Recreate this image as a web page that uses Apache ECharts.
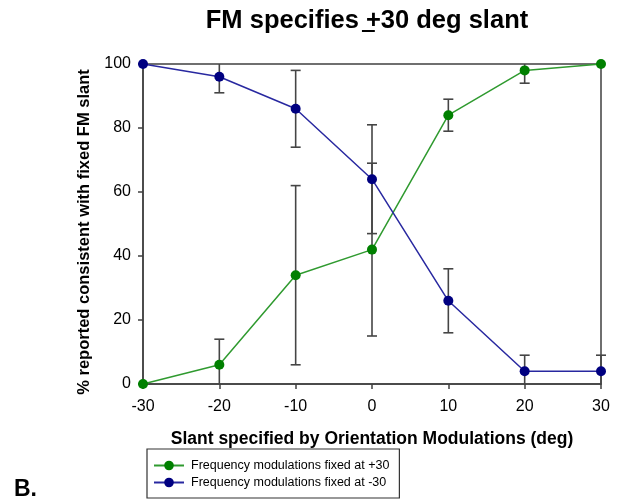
<!DOCTYPE html>
<html>
<head>
<meta charset="utf-8">
<script src="https://cdn.jsdelivr.net/npm/echarts@6/dist/echarts.min.js"></script>
<style>html,body{margin:0;padding:0;background:#fff}#c{width:618px;height:502px}</style>
</head>
<body>
<div id="c"></div>
<script>
// ---- data ----
var slants = [-30, -20, -10, 0, 10, 20, 30];
var plus30Mean = [0, 6, 34, 42, 84, 98, 100];
var plus30Err = [0, 8, 28, 27, 5, 4, 0];
var minus30Mean = [100, 96, 86, 64, 26, 4, 4];
var minus30Err = [0, 5, 12, 17, 10, 5, 5];
var seriesNames = ['Frequency modulations fixed at +30', 'Frequency modulations fixed at -30'];
var titleText = 'FM specifies +30 deg slant';
var xTitle = 'Slant specified by Orientation Modulations (deg)';
var yTitle = '% reported consistent with fixed FM slant';
var panelLabel = 'B.';

var FONT = '"Liberation Sans", Arial, sans-serif';
var titleSize = 25.5;
var titleFont = 'bold ' + titleSize + 'px "Liberation Sans", Arial, sans-serif';
var titleCenterX = 362;

function pairs(xs, ys) { return xs.map(function (x, i) { return [x, ys[i]]; }); }
function errData(xs, m, e) { return xs.map(function (x, i) { return [x, m[i], e[i]]; }); }

// measure underline position for "+"
var cv = document.createElement('canvas').getContext('2d');
cv.font = titleFont;
var fullW = cv.measureText(titleText).width;
var plusIdx = titleText.indexOf('+');
var preW = cv.measureText(titleText.slice(0, plusIdx)).width;
var plusW = cv.measureText('+').width;
var ulX1 = titleCenterX - fullW / 2 + preW + 1;
var ulX2 = ulX1 + plusW - 2;

function errorRender(params, api) {
  var x = api.value(0), m = api.value(1), e = api.value(2);
  if (!e) return null;
  var lo = Math.max(0, m - e), hi = Math.min(100, m + e);
  var pLo = api.coord([x, lo]), pHi = api.coord([x, hi]);
  var cap = 5;
  var style = { stroke: '#454545', lineWidth: 1.6 };
  var children = [{ type: 'line', shape: { x1: pLo[0], y1: pLo[1], x2: pHi[0], y2: pHi[1] }, style: style }];
  if (m - e >= 0) children.push({ type: 'line', shape: { x1: pLo[0] - cap, y1: pLo[1], x2: pLo[0] + cap, y2: pLo[1] }, style: style });
  if (m + e <= 100) children.push({ type: 'line', shape: { x1: pHi[0] - cap, y1: pHi[1], x2: pHi[0] + cap, y2: pHi[1] }, style: style });
  return { type: 'group', children: children };
}

var chart = echarts.init(document.getElementById('c'), null, { renderer: 'canvas' });
chart.setOption({
  backgroundColor: '#fff',
  animation: false,
  title: {
    text: titleText,
    left: titleCenterX,
    textAlign: 'center',
    top: 3,
    textStyle: { fontFamily: FONT, fontWeight: 'bold', fontSize: titleSize, color: '#000' }
  },
  graphic: [
    { type: 'line', shape: { x1: ulX1, y1: 31, x2: ulX2, y2: 31 }, style: { stroke: '#000', lineWidth: 2 } },
    { type: 'text', left: 14, top: 478, style: { text: panelLabel, font: 'bold 23px "Liberation Sans", Arial, sans-serif', fill: '#000' } }
  ],
  grid: { left: 143, right: 17, top: 64, bottom: 118, show: true, borderColor: '#404040', borderWidth: 1.5, backgroundColor: 'transparent' },
  legend: {
    orient: 'vertical',
    left: 147, top: 449,
    padding: [10, 10, 9, 6],
    itemGap: 4,
    itemWidth: 30, itemHeight: 12,
    borderColor: '#333', borderWidth: 1.2, borderRadius: 0,
    textStyle: { fontFamily: FONT, fontSize: 12.5, color: '#000', padding: [0, 0, 0, 2] },
    data: seriesNames
  },
  xAxis: {
    type: 'value', min: -30, max: 30, interval: 10,
    name: xTitle, nameLocation: 'middle', nameGap: 46,
    nameTextStyle: { fontFamily: FONT, fontWeight: 'bold', fontSize: 17.5, color: '#000' },
    axisLine: { show: true, onZero: false, lineStyle: { color: '#404040', width: 1.5 } },
    axisTick: { show: true, length: 5, lineStyle: { color: '#404040', width: 1.5 } },
    axisLabel: { fontFamily: FONT, fontSize: 16, color: '#000', margin: 15 },
    splitLine: { show: false }
  },
  yAxis: {
    type: 'value', min: 0, max: 100, interval: 20,
    name: yTitle, nameLocation: 'middle', nameGap: 50, nameRotate: 90,
    nameTextStyle: { fontFamily: FONT, fontWeight: 'bold', fontSize: 16.5, color: '#000', padding: [0, 16, 0, 0] },
    axisLine: { show: true, onZero: false, lineStyle: { color: '#404040', width: 1.5 } },
    axisTick: { show: true, length: 5, lineStyle: { color: '#404040', width: 1.5 } },
    axisLabel: { fontFamily: FONT, fontSize: 16, color: '#000', margin: 12 },
    splitLine: { show: false }
  },
  series: [
    { type: 'custom', name: 'err+30', renderItem: errorRender, data: errData(slants, plus30Mean, plus30Err), z: 1, clip: false, silent: true },
    { type: 'custom', name: 'err-30', renderItem: errorRender, data: errData(slants, minus30Mean, minus30Err), z: 1, clip: false, silent: true },
    {
      type: 'line', name: seriesNames[0], data: pairs(slants, plus30Mean), z: 3, clip: false,
      symbol: 'circle', symbolSize: 10, showAllSymbol: true,
      lineStyle: { color: '#2f9a2f', width: 1.5 },
      itemStyle: { color: '#008000' }
    },
    {
      type: 'line', name: seriesNames[1], data: pairs(slants, minus30Mean), z: 3, clip: false,
      symbol: 'circle', symbolSize: 10, showAllSymbol: true,
      lineStyle: { color: '#2828a0', width: 1.5 },
      itemStyle: { color: '#000080' }
    }
  ]
});
</script>
</body>
</html>
